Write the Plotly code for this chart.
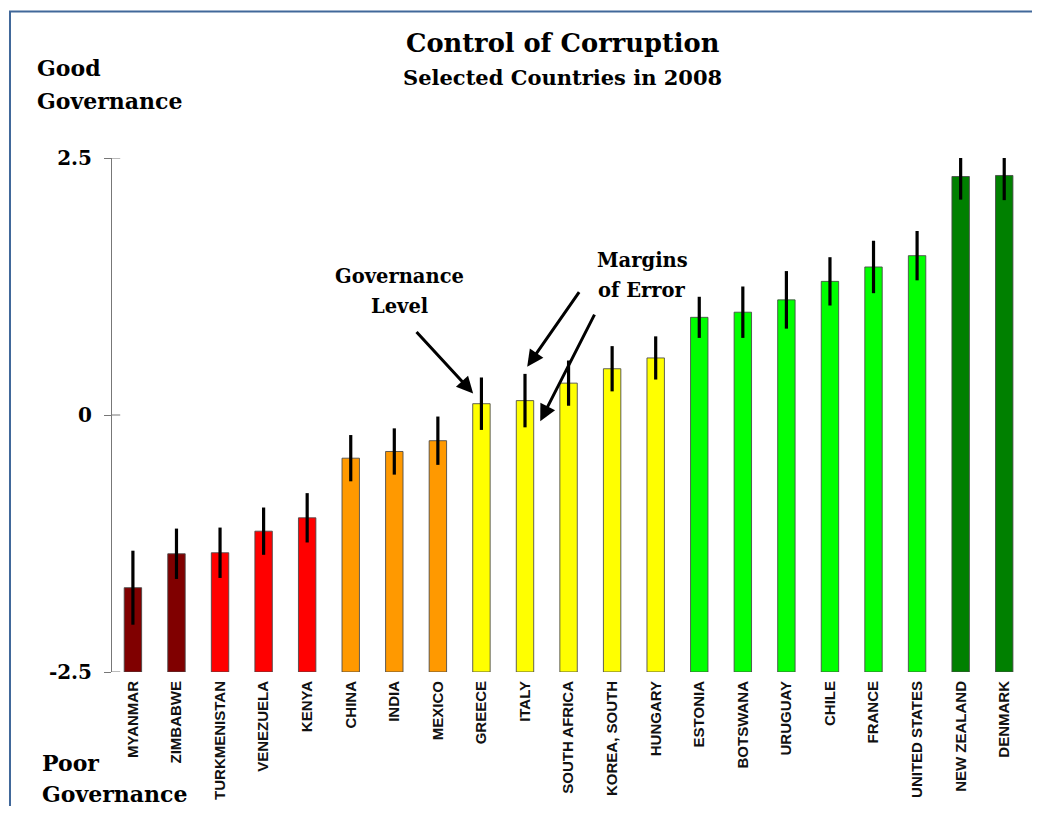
import plotly.graph_objects as go

# ======= Control of Corruption, selected countries 2008 ============

countries = ["MYANMAR", "ZIMBABWE", "TURKMENISTAN", "VENEZUELA", "KENYA",
             "CHINA", "INDIA", "MEXICO", "GREECE", "ITALY", "SOUTH AFRICA",
             "KOREA, SOUTH", "HUNGARY", "ESTONIA", "BOTSWANA", "URUGUAY",
             "CHILE", "FRANCE", "UNITED STATES", "NEW ZEALAND", "DENMARK"]
scores = [-1.68, -1.35, -1.34, -1.13, -1.00, -0.42, -0.355, -0.25, 0.11, 0.14,
          0.31, 0.45, 0.555, 0.95, 1.00, 1.12, 1.30, 1.44, 1.55, 2.32, 2.33]
margins = [0.36, 0.245, 0.245, 0.23, 0.24, 0.225, 0.225, 0.235, 0.255, 0.26,
           0.22, 0.22, 0.21, 0.20, 0.25, 0.28, 0.235, 0.255, 0.24, 0.225, 0.24]
bar_colors = ["#800000", "#800000", "#ff0000", "#ff0000", "#ff0000",
              "#ff9900", "#ff9900", "#ff9900", "#ffff00", "#ffff00", "#ffff00",
              "#ffff00", "#ffff00", "#00ff00", "#00ff00", "#00ff00",
              "#00ff00", "#00ff00", "#00ff00", "#008000", "#008000"]
y_ticks = [-2.5, 0, 2.5]
y_ticktext = ["-2.5", "0", "2.5"]

axis_bottom = -2.5
serif = "DejaVu Serif"

fig = go.Figure()

# bars grow from the bottom of the scale (-2.5)
fig.add_trace(go.Bar(
    x=countries,
    y=[s - axis_bottom for s in scores],
    base=axis_bottom,
    marker=dict(color=bar_colors, line=dict(color="rgba(70,70,70,0.85)", width=1)),
    showlegend=False,
))

# margins of error
fig.add_trace(go.Scatter(
    x=countries,
    y=scores,
    mode="markers",
    marker=dict(size=1, opacity=0),
    error_y=dict(type="data", array=margins, visible=True, thickness=3.2,
                 width=0, color="black"),
    cliponaxis=False,
    showlegend=False,
))

# page body adds 8px offset; figure kept small enough to avoid scrollbars
fig.update_layout(
    width=1024,
    height=798,
    margin=dict(l=104, r=6, t=150, b=132),
    paper_bgcolor="white",
    plot_bgcolor="white",
    bargap=0.6,
    xaxis=dict(
        range=[-0.48, 20.5],
        showline=False,
        showgrid=False,
        ticks="",
        tickangle=-90,
        ticklabelstandoff=5,
        tickfont=dict(family="Liberation Sans", size=15, color="#111", weight="bold"),
    ),
    yaxis=dict(
        range=[-2.5, 2.5],
        showline=True,
        linecolor="#777",
        linewidth=1,
        showgrid=False,
        zeroline=False,
        ticks="outside",
        ticklen=7,
        tickcolor="#777",
        tickvals=y_ticks,
        ticktext=y_ticktext,
        ticklabelstandoff=8,
        tickfont=dict(family=serif, size=20, color="black", weight="bold"),
    ),
)

# inner half of the crossing tick marks
for t in y_ticks:
    fig.add_shape(type="line", xref="paper", yref="y", x0=0, x1=0.009, y0=t, y1=t,
                  line=dict(color="#777", width=1))

# frame round the picture
fig.add_shape(type="rect", xref="paper", yref="paper", x0=-0.1116, x1=1.2,
              y0=-0.6, y1=1.285, line=dict(color="#41689a", width=2))

def label(text, x, y, size, xanchor="center", xref="paper", yref="paper"):
    fig.add_annotation(text=text, x=x, y=y, xref=xref, yref=yref, showarrow=False,
                       xanchor=xanchor, yanchor="middle",
                       font=dict(family=serif, size=size, color="black", weight="bold"))

label("Control of Corruption", 0.4934, 1.2229, 25.7)
label("Selected Countries in 2008", 0.4934, 1.157, 21)
label("Good", -0.0842, 1.1754, 22, xanchor="left")
label("Governance", -0.0842, 1.1114, 22, xanchor="left")
label("Poor", -0.0787, -0.1764, 22, xanchor="left")
label("Governance", -0.0787, -0.2364, 22, xanchor="left")

label("Governance", 6.11, 1.344, 19.5, xref="x", yref="y")
label("Level", 6.11, 1.053, 19.5, xref="x", yref="y")
label("Margins", 11.69, 1.499, 19.5, xref="x", yref="y")
label("of Error", 11.69, 1.208, 19.5, xref="x", yref="y")

# pointers
arrows = [(7.81, 0.21, -58, -63), (9.05, 0.47, 53, -76), (9.35, -0.06, 55, -108)]
for ax_x, ax_y, dx, dy in arrows:
    fig.add_annotation(x=ax_x, y=ax_y, xref="x", yref="y", ax=dx, ay=dy,
                       axref="pixel", ayref="pixel", text="", showarrow=True,
                       arrowhead=2, arrowsize=1.1, arrowwidth=3, arrowcolor="black")

fig.write_html("out.html")
